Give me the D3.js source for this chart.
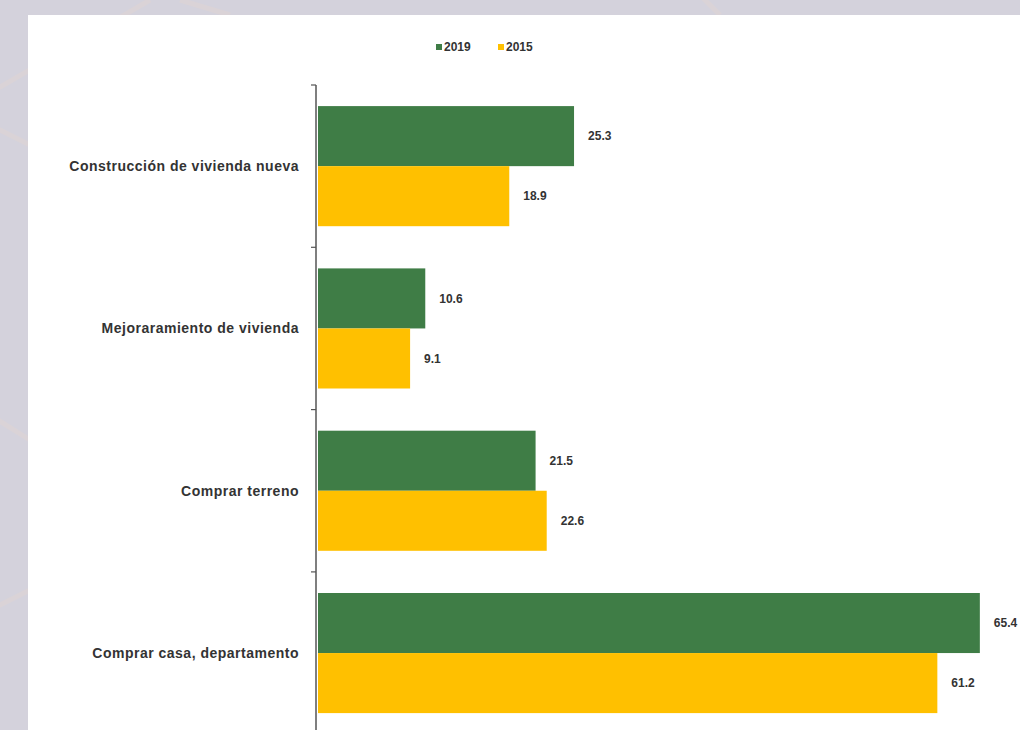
<!DOCTYPE html>
<html>
<head>
<meta charset="utf-8">
<script src="https://cdn.jsdelivr.net/npm/d3@7"></script>
<style>
  html, body { margin: 0; padding: 0; background: #d4d2dc; }
  svg { display: block; }
  text { font-family: "Liberation Sans Narrow", "Arial Narrow", "Liberation Sans", sans-serif; }
</style>
</head>
<body>
<svg id="chart" width="1020" height="730"></svg>
<script>
// Motivos de crédito de vivienda, porcentaje
const categories = [
  "Construcción de vivienda nueva",
  "Mejoraramiento de vivienda",
  "Comprar terreno",
  "Comprar casa, departamento"
];
const seriesNames = ["2019", "2015"];
const values2019 = [25.3, 10.6, 21.5, 65.4];
const values2015 = [18.9, 9.1, 22.6, 61.2];
const seriesColors = ["#3f7d46", "#ffc000"];

const svg = d3.select("#chart");
const W = 1020, H = 730;

// decorative background strokes
const deco = svg.append("g").attr("stroke", "#dad3d7").attr("stroke-width", 5).attr("fill", "none");
[
  [[-10, 93], [150, 0]], [[180, 0], [230, 15]], [[720, 15], [700, -5]],
  [[-10, 125], [30, 145]], [[-10, 415], [30, 440]], [[-10, 610], [30, 590]]
].forEach(p => deco.append("line")
  .attr("x1", p[0][0]).attr("y1", p[0][1]).attr("x2", p[1][0]).attr("y2", p[1][1]));

// white panel
svg.append("rect").attr("x", 28).attr("y", 15).attr("width", W - 28).attr("height", H - 15).attr("fill", "#ffffff");

const margin = { left: 318, top: 85 };
const step = 162.3;
const plotH = step * categories.length;

const x = d3.scaleLinear().domain([0, 1]).range([margin.left, margin.left + 10.12]);
const y = d3.scaleBand().domain(categories).range([margin.top, margin.top + plotH])
  .paddingInner(0.26).paddingOuter(0.13);
const sub = d3.scaleBand().domain(seriesNames).range([0, y.bandwidth()]);

const rows = categories.map((c, i) => ({ cat: c, vals: [values2019[i], values2015[i]] }));

const g = svg.append("g");
rows.forEach(r => {
  r.vals.forEach((v, j) => {
    g.append("rect")
      .attr("x", x(0))
      .attr("y", y(r.cat) + sub(seriesNames[j]))
      .attr("width", x(v) - x(0))
      .attr("height", sub.bandwidth())
      .attr("fill", seriesColors[j]);
    g.append("text")
      .attr("x", x(v) + 14)
      .attr("y", y(r.cat) + sub(seriesNames[j]) + sub.bandwidth() / 2)
      .attr("dy", "0.35em")
      .attr("font-size", 12)
      .attr("font-weight", "bold")
      .attr("fill", "#333")
      .text(v.toFixed(1));
  });
});

// category axis
const yAxisG = svg.append("g").attr("transform", `translate(${margin.left - 2},0)`);
yAxisG.append("line")
  .attr("x1", 0).attr("x2", 0)
  .attr("y1", margin.top).attr("y2", margin.top + plotH)
  .attr("stroke", "#555").attr("stroke-width", 1.5);
d3.range(categories.length + 1).forEach(i => {
  yAxisG.append("line")
    .attr("x1", -5).attr("x2", 0)
    .attr("y1", margin.top + i * step).attr("y2", margin.top + i * step)
    .attr("stroke", "#555").attr("stroke-width", 1.2);
});
categories.forEach(c => {
  svg.append("text")
    .attr("x", 299)
    .attr("y", y(c) + y.bandwidth() / 2)
    .attr("dy", "0.35em")
    .attr("text-anchor", "end")
    .attr("font-size", 14)
    .attr("letter-spacing", 0.5)
    .attr("fill", "#333")
    .attr("font-weight", "bold")
    .text(c);
});

// legend
const legend = svg.append("g").attr("transform", "translate(436,47)");
[[0, 0], [1, 62]].forEach(([j, dx]) => {
  legend.append("rect").attr("x", dx).attr("y", -3).attr("width", 6).attr("height", 6).attr("fill", seriesColors[j]);
  legend.append("text").attr("x", dx + 8).attr("y", 0).attr("dy", "0.35em")
    .attr("font-size", 12).attr("font-weight", "bold").attr("fill", "#333").text(seriesNames[j]);
});
</script>
</body>
</html>
